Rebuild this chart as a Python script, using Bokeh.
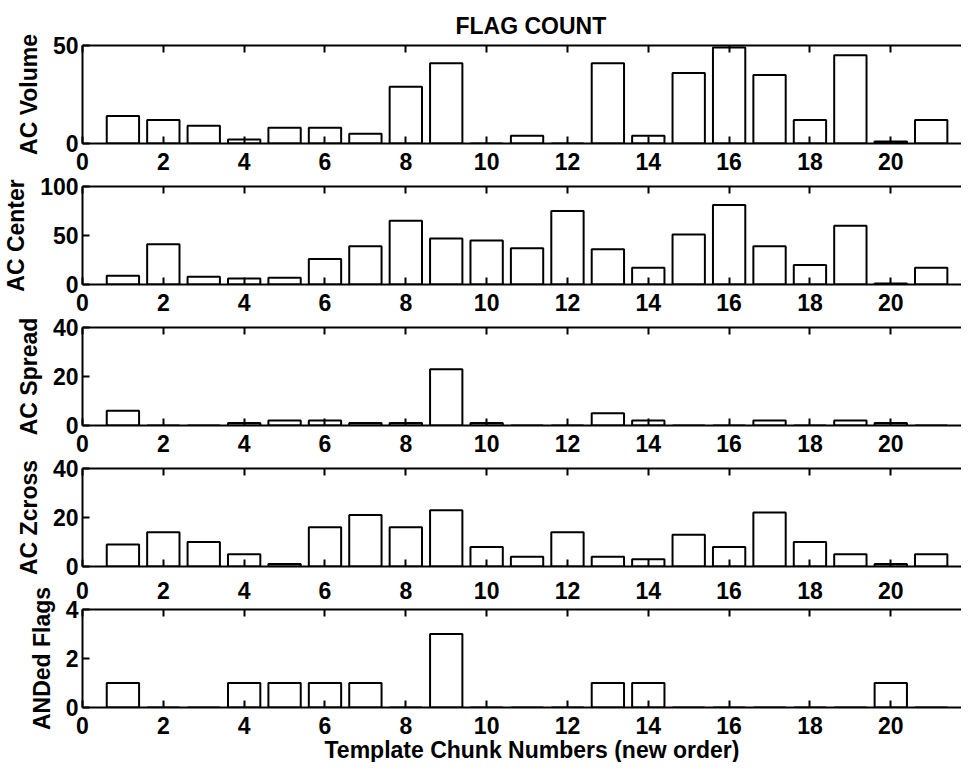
from bokeh.plotting import figure
from bokeh.layouts import column
from bokeh.models import Range1d, FixedTicker, LinearAxis, Title
from bokeh.embed import file_html
from bokeh.resources import INLINE

chunks = list(range(1, 22))
ac_volume = [14, 12, 9, 2, 8, 8, 5, 29, 41, 0, 4, 0, 41, 4, 36, 49, 35, 12, 45, 1, 12]
ac_center = [9, 41, 8, 6, 7, 26, 39, 65, 47, 45, 37, 75, 36, 17, 51, 81, 39, 20, 60, 1, 17]
ac_spread = [6, 0, 0, 1, 2, 2, 1, 1, 23, 1, 0, 0, 5, 2, 0, 0, 2, 0, 2, 1, 0]
ac_zcross = [9, 14, 10, 5, 1, 16, 21, 16, 23, 8, 4, 14, 4, 3, 13, 8, 22, 10, 5, 1, 5]
anded_flags = [1, 0, 0, 1, 1, 1, 1, 0, 3, 0, 0, 0, 1, 1, 0, 0, 0, 0, 0, 1, 0]

x_ticks = [0, 2, 4, 6, 8, 10, 12, 14, 16, 18, 20]
panel_names = ["AC Volume", "AC Center", "AC Spread", "AC Zcross", "ANDed Flags"]
panel_values = [ac_volume, ac_center, ac_spread, ac_zcross, anded_flags]
panel_ymax = [50, 100, 40, 40, 4]
panel_yticks = [[0, 50], [0, 50, 100], [0, 20, 40], [0, 20, 40], [0, 2, 4]]
title_text = "FLAG COUNT"
xlabel_text = "Template Chunk Numbers (new order)"

FONT = "Liberation Sans"
FS = "23px"

# where the x tick labels live: below a panel, or (for the gap above the
# last panel) on the last panel's top axis, so the tall y label fits
labels_below = [True, True, True, False, True]
labels_above = [False, False, False, False, True]
border_top = [45, 11, 11, 11, 33]
border_bottom = [32, 32, 32, 10, 55]


def style_x_axis(ax, labels, standoff):
    ax.ticker = FixedTicker(ticks=x_ticks)
    ax.major_tick_in = 7
    ax.major_tick_out = 0
    ax.minor_tick_line_color = None
    ax.axis_line_width = 2
    ax.major_tick_line_width = 2
    ax.major_label_standoff = standoff
    if labels:
        ax.major_label_text_font = FONT
        ax.major_label_text_font_size = FS
        ax.major_label_text_font_style = "bold"
        ax.major_label_text_color = "black"
    else:
        ax.major_label_text_font_size = "1px"
        ax.major_label_text_color = None


figs = []
n = len(panel_names)
for i in range(n):
    top_b = border_top[i]
    bot_b = border_bottom[i]
    p = figure(width=961, height=top_b + 98 + bot_b,
               x_range=Range1d(0, 21.75), y_range=Range1d(0, panel_ymax[i]),
               output_backend="svg", toolbar_location=None,
               min_border_left=74, min_border_right=0,
               min_border_top=top_b, min_border_bottom=bot_b)
    p.outline_line_color = None
    p.grid.visible = False
    p.background_fill_color = "white"
    p.border_fill_color = "white"

    p.vbar(x=chunks, top=panel_values[i], width=0.8, bottom=0,
           fill_color="white", line_color="black", line_width=2)

    style_x_axis(p.xaxis[0], labels=labels_below[i],
                 standoff=(9 if labels_below[i] else 0))

    top_axis = LinearAxis()
    style_x_axis(top_axis, labels=labels_above[i],
                 standoff=(11 if labels_above[i] else 0))
    p.add_layout(top_axis, "above")

    ya = p.yaxis[0]
    ya.ticker = FixedTicker(ticks=panel_yticks[i])
    ya.major_tick_in = 7
    ya.major_tick_out = 0
    ya.minor_tick_line_color = None
    ya.axis_line_width = 2
    ya.major_tick_line_width = 2
    ya.major_label_text_font = FONT
    ya.major_label_text_font_size = FS
    ya.major_label_text_font_style = "bold"
    ya.major_label_text_color = "black"
    ya.major_label_standoff = 4
    ya.axis_label = panel_names[i]
    ya.axis_label_text_font = FONT
    ya.axis_label_text_font_size = FS
    ya.axis_label_text_font_style = "bold"
    ya.axis_label_text_color = "black"
    ya.axis_label_standoff = 8

    if i == 0:
        p.title.text = title_text
        p.title.align = "left"
        p.title.vertical_align = "top"
        p.title.offset = 373
        p.title.standoff = 9
        p.title.text_font = FONT
        p.title.text_font_size = FS
        p.title.text_font_style = "bold"
        p.title.text_color = "black"
    if i == n - 1:
        xl = Title(text=xlabel_text, align="left", offset=242, standoff=-3,
                   text_font=FONT, text_font_size=FS, text_font_style="bold",
                   text_color="black")
        p.add_layout(xl, "below")
    figs.append(p)

layout = column(*figs, spacing=0)
open("out.html", "w").write(file_html(layout, INLINE))
